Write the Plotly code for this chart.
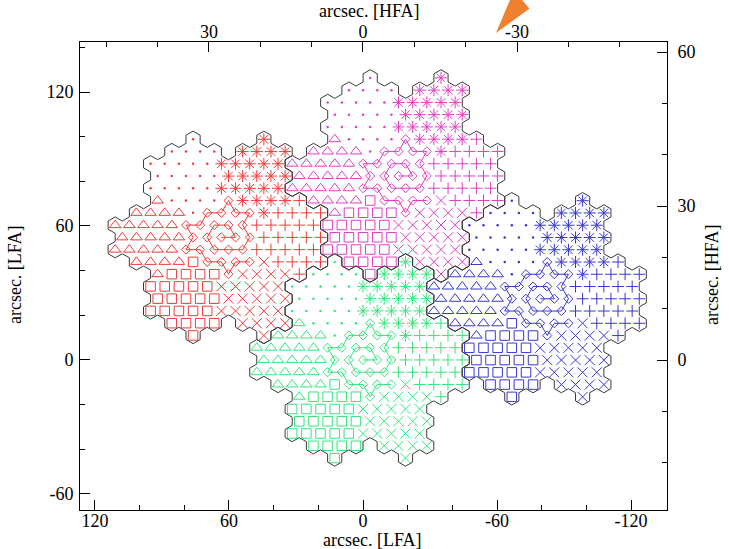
import math
import plotly.graph_objects as go

# ---- data -------------------------------------------------------------
# four map positions: colour and array-centre offsets (arcsec, LFA frame)
map_colors = ["#ee3b3b", "#e03fc4", "#34e67c", "#3838d0"]
map_center_x = [63.4, -15.9, 0.0, -79.3]
map_center_y = [54.9, 82.4, 0.0, 27.4]

# seven array pixels: plotting symbol and direction from the central pixel (deg)
pixel_symbols = ["diamond-open", "circle", "asterisk-open", "cross-thin-open",
                 "x-thin-open", "square-open", "triangle-up-open"]
pixel_angles = [None, 120, 60, 0, 300, 240, 180]
pixel_sizes = [7, 2.5, 10, 8.5, 10, 9.5, 10]
pixel_spacing = 31.7          # arcsec
pattern_step_per_spacing = 5  # lattice steps between adjacent pixels

# sampling pattern of one pixel (hex-lattice column, row), in scan order
pattern_col = [0, 1, 0.5, -0.5, -1, -0.5, 0.5, 1.5, 2, 1.5, 2, 1, 0.5, 0, -1,
               -1.5, -2.5, -2, -2.5, -1.5, -1, 0, 0.5, 1, 2]
pattern_row = [0, 0, 1, 1, 0, -1, -1, -1, 0, 1, 2, 2, 3, 2, 2,
               1, 1, 0, -1, -1, -2, -2, -3, -2, -2]

# axis ticks
lfa_x_ticks = [120, 60, 0, -60, -120]
lfa_y_ticks = [-60, 0, 60, 120]
hfa_x_ticks = [30, 0, -30]
hfa_y_ticks = [0, 30, 60]
axis_title_lfa = "arcsec. [LFA]"
axis_title_hfa = "arcsec. [HFA]"

# ---- geometry helpers --------------------------------------------------
s = pixel_spacing / pattern_step_per_spacing
h = s * math.sqrt(3) / 2
R = s / math.sqrt(3)


def pixel_offset(angle):
    if angle is None:
        return 0.0, 0.0
    n = pattern_step_per_spacing
    a = math.radians(angle)
    col = round(2 * n * math.cos(a)) / 2
    row = round(n * math.sin(a) / (math.sqrt(3) / 2))
    return col, row


fig = go.Figure()

outline_x, outline_y = [], []
nbrs = [(2, 0), (1, 1), (-1, 1), (-2, 0), (-1, -1), (1, -1)]

for mi, color in enumerate(map_colors):
    cx, cy = map_center_x[mi], map_center_y[mi]
    keys = set()
    for pi, sym in enumerate(pixel_symbols):
        pc, pr = pixel_offset(pixel_angles[pi])
        xs, ys = [], []
        for c, r in zip(pattern_col, pattern_row):
            col = pc + c
            row = pr + r
            keys.add((int(round(2 * col)), int(row)))
            xs.append(cx - col * s)   # x axis runs right-to-left
            ys.append(cy + row * h)
        if sym == "circle":
            marker = dict(symbol=sym, size=pixel_sizes[pi], color=color,
                          line=dict(width=0))
        else:
            marker = dict(symbol=sym, size=pixel_sizes[pi], color=color,
                          line=dict(color=color, width=1))
        fig.add_trace(go.Scatter(
            x=xs, y=ys,
            mode="lines+markers" if pi == 0 else "markers",
            line=dict(color=color, width=1),
            marker=marker, showlegend=False, hoverinfo="skip"))
    # outline: boundary edges of the hexagonal cells
    for (c2, r) in keys:
        u0 = c2 / 2 * s
        v0 = r * h
        for k, (dc, dr) in enumerate(nbrs):
            if (c2 + dc, r + dr) in keys:
                continue
            th = 60 * k
            for a in (th - 30, th + 30):
                u = u0 + R * math.cos(math.radians(a))
                v = v0 + R * math.sin(math.radians(a))
                outline_x.append(cx - u)
                outline_y.append(cy + v)
            outline_x.append(None)
            outline_y.append(None)

fig.add_trace(go.Scatter(x=outline_x, y=outline_y, mode="lines",
                         line=dict(color="#3a3a3a", width=1),
                         showlegend=False, hoverinfo="skip"))

# invisible trace to instantiate the HFA axes
fig.add_trace(go.Scatter(x=[0], y=[0], xaxis="x2", yaxis="y2", mode="markers",
                         marker=dict(opacity=0), showlegend=False,
                         hoverinfo="skip"))

font = dict(family="Liberation Serif, Times New Roman, serif", size=18,
            color="black")
common = dict(showline=True, linecolor="black", linewidth=1, ticks="inside",
              ticklen=10, tickcolor="black", showgrid=False, zeroline=False,
              tickfont=font, automargin=False)
title_common = dict(xref="paper", yref="paper", showarrow=False, font=font,
                    xanchor="center", yanchor="middle")

fig.update_layout(
    width=729, height=549,
    margin=dict(l=80, r=62, t=42, b=39, autoexpand=False),
    paper_bgcolor="white", plot_bgcolor="white",
    xaxis=dict(range=[126.7, -136.1], tickvals=lfa_x_ticks,
               ticktext=[str(v) for v in lfa_x_ticks],
               ticklabelstandoff=-6,
               minor=dict(dtick=20, ticks="inside", ticklen=5,
                          tickcolor="black"), **common),
    yaxis=dict(range=[-67.2, 142.4], tickvals=lfa_y_ticks,
               ticktext=[str(v) for v in lfa_y_ticks],
               ticklabelstandoff=2,
               minor=dict(dtick=20, ticks="inside", ticklen=5,
                          tickcolor="black"), **common),
    xaxis2=dict(range=[55.1, -59.2], overlaying="x", side="top", anchor="y2",
                tickvals=hfa_x_ticks,
                ticktext=[str(v) for v in hfa_x_ticks],
                ticklabelstandoff=-4,
                minor=dict(dtick=10, ticks="inside", ticklen=5,
                           tickcolor="black"), **common),
    yaxis2=dict(range=[-29.2, 61.95], overlaying="y", side="right",
                anchor="x2", tickvals=hfa_y_ticks,
                ticktext=[str(v) for v in hfa_y_ticks],
                ticklabelstandoff=6,
                minor=dict(dtick=10, ticks="inside", ticklen=5,
                           tickcolor="black"), **common),
    annotations=[
        dict(text=axis_title_lfa, x=0.499, y=-0.0641, **title_common),
        dict(text=axis_title_hfa, x=0.494, y=1.0662, **title_common),
        dict(text=axis_title_lfa, x=-0.1107, y=0.502, textangle=-90,
             **title_common),
        dict(text=axis_title_hfa, x=1.0767, y=0.502, textangle=-90,
             **title_common),
    ],
    shapes=[dict(type="path", xref="paper", yref="paper",
                 path="M 0.7087 1.0192 L 0.7325 1.0897 L 0.7530 1.0897 "
                      "L 0.7658 1.0716 Z",
                 fillcolor="#f07f2e", line=dict(width=0))],
)

fig.write_html("out.html",
               config={"displayModeBar": False},
               post_script="document.body.style.margin='0';"
                           "document.body.style.overflow='hidden';")
